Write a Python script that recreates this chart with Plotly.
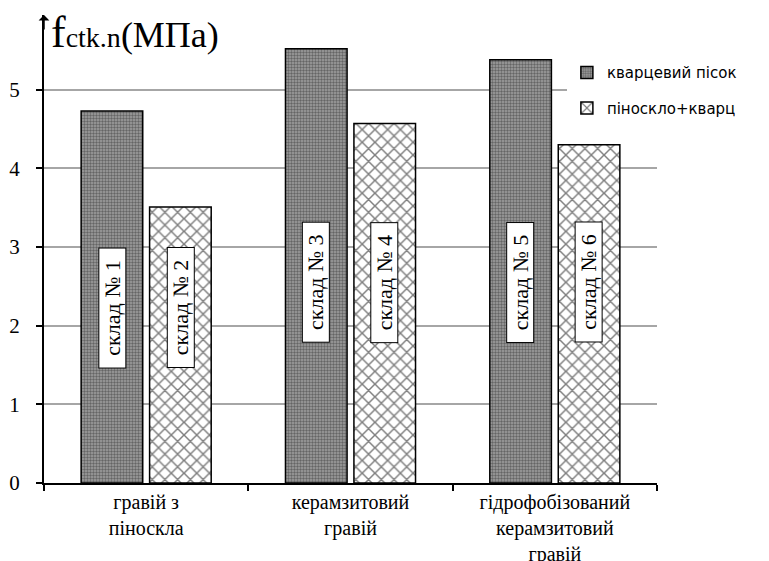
import plotly.graph_objects as go

categories = ["гравій з<br>піноскла", "керамзитовий<br>гравій", "гідрофобізований<br>керамзитовий<br>гравій"]
series_names = ["кварцевий пісок", "піноскло+кварц"]
quartz_sand = [4.73, 5.52, 5.38]
foamglass_quartz = [3.51, 4.57, 4.30]
mix_labels = ["склад № 1", "склад № 2", "склад № 3", "склад № 4", "склад № 5", "склад № 6"]
label_y = [2.23, 2.23, 2.55, 2.55, 2.55, 2.55]
y_ticks = [0, 1, 2, 3, 4, 5]

SERIF = "Liberation Serif"
bargap = 0.33

fig = go.Figure()
fig.add_trace(go.Bar(
    name=series_names[0], x=categories, y=quartz_sand, legendgroup="a",
    marker=dict(color="#7a7a7a", line=dict(color="black", width=1.5),
                pattern=dict(shape=".", size=3, solidity=0.5, fgcolor="#2a2a2a", bgcolor="#a0a0a0")),
))
fig.add_trace(go.Bar(
    name=series_names[1], x=categories, y=foamglass_quartz, legendgroup="b",
    marker=dict(color="white", line=dict(color="black", width=1.5),
                pattern=dict(shape="x", size=9, solidity=0.3, fgcolor="black", bgcolor="white")),
))

half = (1 - bargap) / 4
annotations = []
for i, (txt, yy) in enumerate(zip(mix_labels, label_y)):
    cat = i // 2
    xpos = cat - half if i % 2 == 0 else cat + half
    annotations.append(dict(
        x=xpos, y=yy, xref="x", yref="y", text=txt, showarrow=False, textangle=-90,
        font=dict(family=SERIF, size=22, color="black"), bgcolor="white",
        bordercolor="black", borderwidth=1, borderpad=0, width=119, height=26,
    ))

annotations.append(dict(
    xref="paper", yref="paper", x=0.008, y=0.962, xanchor="left", yanchor="middle",
    text="<span style='font-size:44px'>f</span><span style='font-size:28px'>ctk.n</span><span style='font-size:36px'>(МПа)</span>",
    showarrow=False, font=dict(family=SERIF, size=36, color="black"),
))
annotations.append(dict(
    xref="paper", yref="paper", x=0, y=1.0, ax=0, ay=16, showarrow=True,
    arrowhead=1, arrowsize=1.2, arrowwidth=1.5, arrowcolor="black", text="",
))

fig.update_layout(
    width=769, height=561,
    margin=dict(l=36, r=120, t=7, b=86, autoexpand=False),
    paper_bgcolor="white", plot_bgcolor="white",
    barmode="group", bargap=bargap, bargroupgap=0.1,
    font=dict(family=SERIF, color="black"),
    showlegend=True,
    legend=dict(x=0.853, y=0.912, xanchor="left", yanchor="top", bgcolor="white",
                font=dict(family="DejaVu Sans", size=15, color="black"),
                tracegroupgap=13, itemwidth=30),
    annotations=annotations,
)
fig.update_xaxes(
    showline=True, linecolor="black", linewidth=2, ticks="outside", ticklen=6, tickwidth=2,
    tickcolor="black", tickson="boundaries", showgrid=False, automargin=False,
    tickfont=dict(family=SERIF, size=20, color="black"),
)
fig.update_yaxes(
    range=[0, 5.95], tickvals=y_ticks, showline=True, linecolor="black", linewidth=2,
    ticks="outside", ticklen=6, tickwidth=2, tickcolor="black", automargin=False,
    showgrid=True, gridcolor="#a6a6a6", gridwidth=1.5, zeroline=False,
    ticklabelstandoff=12,
    tickfont=dict(family=SERIF, size=21, color="black"),
)

fig.write_html("out.html")
